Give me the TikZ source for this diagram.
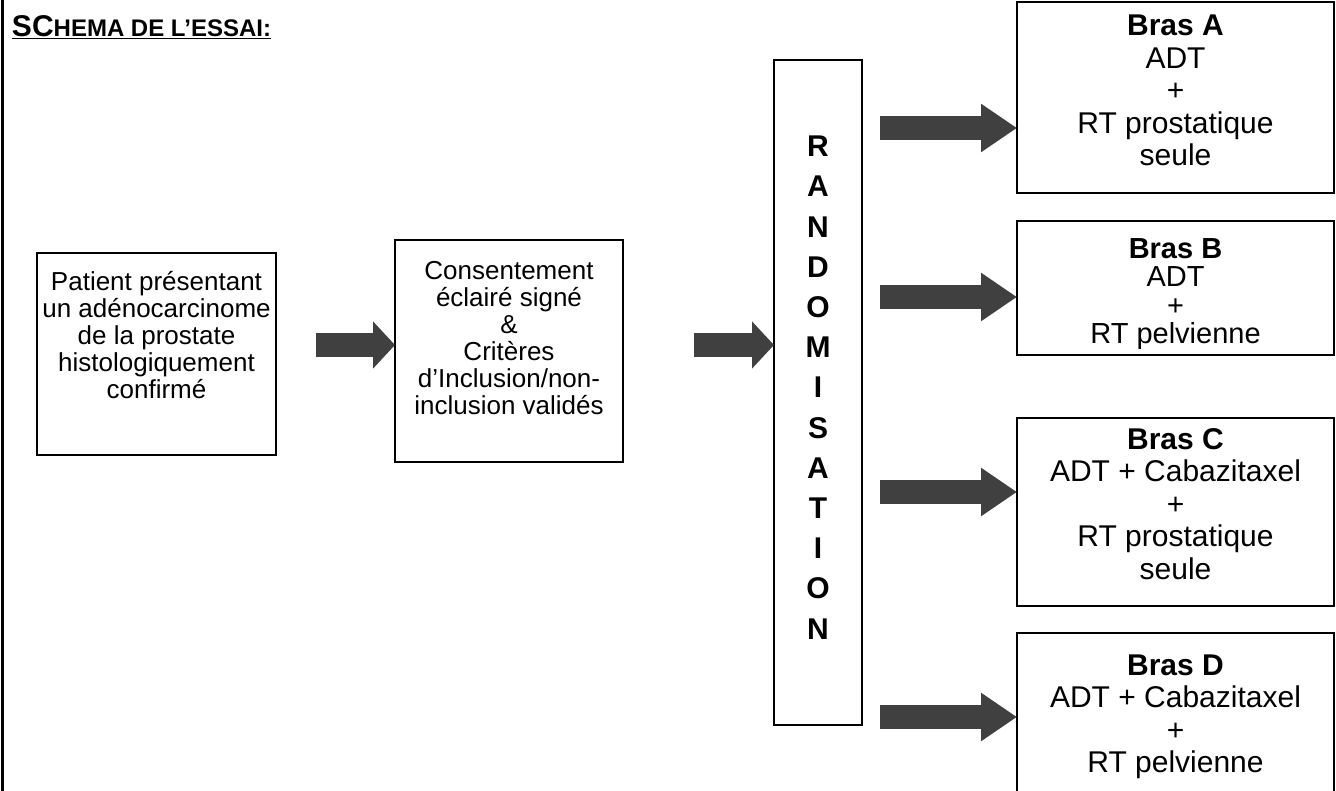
\documentclass[tikz,border=0pt]{standalone}
\usepackage{fontspec}
\setmainfont{Liberation Sans}
\usetikzlibrary{arrows.meta}
\definecolor{arrowgray}{RGB}{64,64,64}
\newcommand{\boxtxt}{\fontsize{26}{27}\selectfont}
\newcommand{\brastxt}{\fontsize{30}{32.5}\selectfont}
\newcommand{\randtxt}{\fontsize{30}{40.2}\selectfont\bfseries}

\begin{document}
\begin{tikzpicture}[x=1pt,y=-1pt,inner sep=0pt,outer sep=0pt,
stepbox/.style={draw,rectangle,line width=1.5pt,align=center,font=\boxtxt},
brasbox/.style={draw,rectangle,line width=1.5pt,align=center,minimum width=317pt,font=\brastxt},
bigarrow/.style={arrowgray,line width=24pt,-{Triangle[length=36pt,width=46pt]}},
smallarrow/.style={arrowgray,line width=24pt,-{Triangle[length=22pt,width=46pt]}}]
\useasboundingbox (0,0) rectangle (1336,791);
\draw[line width=3pt] (2.5,0) -- (2.5,791);
\draw (12,37) node[anchor=base west,font=\bfseries] (titre)
  {\underline{\fontsize{30}{32}\selectfont SC\fontsize{24}{32}\selectfont HEMA DE L'ESSAI:}};
% boites de gauche
\draw (156.5,354) node[stepbox,minimum width=239pt,minimum height=202pt] (patient) {};
\draw (patient.north) ++(0,18) node[anchor=north,align=center,font=\boxtxt] (patienttxt)
  {Patient présentant\\un adénocarcinome\\de la prostate\\histologiquement\\confirmé};
\draw (509,351) node[stepbox,minimum width=228pt,minimum height=222pt] (consent) {};
\draw (consent.north) ++(0,21) node[anchor=north,align=center,font=\boxtxt] (consenttxt)
  {Consentement\\éclairé signé\\\&\\Critères\\d'Inclusion/non-\\inclusion validés};
\draw (818,392.5) node[stepbox,minimum width=88pt,minimum height=665pt,font=\randtxt] (rand) {};
\draw (rand.center) ++(0,-5) node[align=center,font=\randtxt] (randtxt)
  {R\\A\\N\\D\\O\\M\\I\\S\\A\\T\\I\\O\\N};
% bras
\draw (1175.5,97.5) node[brasbox,minimum height=191pt] (brasA) {};
\draw (brasA.center) ++(0,-7) node[align=center,font=\brastxt] (brasAtxt)
  {\textbf{Bras A}\\ADT\\+\\RT prostatique\\seule};
\draw (1175.5,288) node[brasbox,minimum height=134pt] (brasB) {};
\draw (brasB.center) ++(0,6) node[align=center,font=\fontsize{29}{28.5}\selectfont] (brasBtxt)
  {\textbf{Bras B}\\ADT\\+\\RT pelvienne};
\draw (1175.5,512) node[brasbox,minimum height=188pt] (brasC) {};
\draw (brasC.center) ++(0,-8) node[align=center,font=\brastxt] (brasCtxt)
  {\textbf{Bras C}\\ADT + Cabazitaxel\\+\\RT prostatique\\seule};
\draw (1175.5,717) node[brasbox,minimum height=168pt] (brasD) {};
\draw (brasD.center) ++(0,0) node[align=center,font=\brastxt] (brasDtxt)
  {\textbf{Bras D}\\ADT + Cabazitaxel\\+\\RT pelvienne};
% fleches
\draw[smallarrow] ([xshift=40pt]patient.east |- 0,345) -- (consent.west |- 0,345);
\draw[smallarrow] ([xshift=71pt]consent.east |- 0,345) -- (rand.west |- 0,345);
\draw[bigarrow] ([xshift=18pt]rand.east |- 0,128) -- (brasA.west |- 0,128);
\draw[bigarrow] ([xshift=18pt]rand.east |- 0,297) -- (brasB.west |- 0,297);
\draw[bigarrow] ([xshift=18pt]rand.east |- 0,492) -- (brasC.west |- 0,492);
\draw[bigarrow] ([xshift=18pt]rand.east |- 0,717) -- (brasD.west |- 0,717);
\end{tikzpicture}
\end{document}
